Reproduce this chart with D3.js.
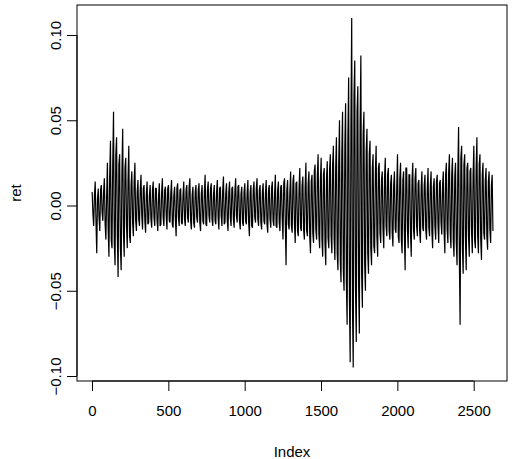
<!DOCTYPE html>
<html>
<head>
<meta charset="utf-8">
<script src="https://cdn.jsdelivr.net/npm/d3@7"></script>
<style>
  body { margin: 0; background: #fff; }
  text { font-family: Arial, "Liberation Sans", sans-serif; font-size: 15px; fill: #000; }
</style>
</head>
<body>
<svg id="chart" width="513" height="459"></svg>
<script>
// returns in thousandths, read at index 1, 11, 21, ...
const retMilli = [
  8,-12,14,-28,10,-15,12,-9,16,-20,
  25,-30,38,-25,55,-35,40,-42,30,-38,
  45,-30,28,-25,35,-22,20,-18,25,-15,
  15,-12,18,-14,12,-16,14,-10,12,-13,
  14,-12,10,-15,13,-11,16,-12,11,-14,
  12,-10,15,-13,11,-18,13,-12,10,-11,
  14,-12,12,-10,16,-14,11,-13,12,-10,
  13,-15,12,-11,18,-12,14,-10,13,-12,
  12,-11,15,-14,11,-12,17,-10,13,-15,
  14,-12,11,-13,16,-10,12,-14,11,-12,
  13,-11,15,-18,12,-13,14,-10,16,-12,
  12,-14,13,-11,15,-16,12,-13,14,-12,
  18,-13,14,-15,12,-20,16,-35,15,-14,
  20,-16,18,-22,14,-18,22,-15,17,-20,
  25,-18,20,-28,18,-22,24,-20,30,-25,
  28,-30,22,-35,26,-25,30,-28,35,-32,
  40,-38,50,-45,55,-50,60,-70,75,-92,
  110,-95,85,-80,70,-75,88,-60,55,-50,
  45,-40,38,-35,30,-28,35,-30,25,-22,
  20,-25,28,-18,22,-20,18,-24,20,-16,
  30,-22,25,-28,20,-38,22,-25,18,-30,
  25,-20,22,-18,15,-22,20,-15,18,-20,
  22,-18,20,-25,16,-20,18,-22,15,-17,
  20,-28,25,-22,30,-25,28,-30,25,-35,
  46,-70,35,-40,30,-38,25,-30,22,-28,
  35,-25,40,-28,30,-32,25,-20,22,-26,
  20,-22,18
];
// returns in thousandths, read at index 6, 16, 26, ...
const retMilliMid = [
  -5,6,-9,4,-7,9,-4,8,-11,6,
  -14,18,-20,26,-22,30,-18,24,-25,20,
  -16,22,-12,15,-18,12,-10,14,-9,8,
  -8,9,-6,10,-9,7,-11,6,-8,9,
  -7,10,-9,6,-12,8,-7,9,-6,10,
  -9,7,-11,6,-8,10,-7,9,-10,6,
  -8,9,-7,11,-9,6,-10,8,-7,9,
  -10,7,-9,8,-11,9,-6,10,-8,7,
  -9,8,-7,10,-6,9,-11,7,-9,8,
  -7,10,-8,9,-6,11,-9,7,-10,8,
  -9,7,-10,8,-12,9,-7,10,-8,9,
  -10,8,-9,7,-11,9,-8,10,-9,7,
  -12,9,-10,11,-8,13,-10,9,-11,8,
  -12,14,-11,13,-15,10,-13,12,-14,11,
  -15,13,-18,14,-16,20,-14,18,-17,15,
  -20,18,-22,16,-19,21,-18,24,-20,22,
  -28,25,-32,30,-38,35,-45,40,-55,50,
  -60,65,-50,55,-45,48,-40,42,-35,32,
  -28,30,-25,22,-24,20,-18,22,-16,15,
  -14,16,-12,18,-15,13,-16,12,-14,11,
  -18,16,-20,15,-17,22,-14,18,-16,15,
  -14,16,-12,13,-15,11,-13,12,-14,10,
  -13,12,-15,11,-12,14,-11,13,-10,12,
  -15,18,-14,20,-16,18,-20,17,-22,20,
  -30,28,-25,24,-20,22,-18,20,-16,18,
  -20,22,-18,24,-20,18,-16,15,-18,14,
  -14,12,-15
];
const indexStep = 10;
const xTicks = [0, 500, 1000, 1500, 2000, 2500];
const yTicks = [-0.10, -0.05, 0.00, 0.05, 0.10];

const data = [];
retMilli.forEach((v, i) => {
  data.push({ idx: 1 + i * indexStep, ret: v / 1000 });
  data.push({ idx: 6 + i * indexStep, ret: retMilliMid[i] / 1000 });
});

const svg = d3.select("#chart");
const box = { left: 77, right: 507, top: 5, bottom: 381 };

const x = d3.scaleLinear().domain([0, 2500]).range([92, 473.7]);
const y = d3.scaleLinear().domain([-0.1, 0.1]).range([376, 35]);

svg.append("path")
    .datum(data)
    .attr("fill", "none")
    .attr("stroke", "#000")
    .attr("stroke-width", 1.2)
    .attr("d", d3.line().x(d => x(d.idx)).y(d => y(d.ret)));

svg.append("rect")
    .attr("x", box.left).attr("y", box.top)
    .attr("width", box.right - box.left).attr("height", box.bottom - box.top)
    .attr("fill", "none").attr("stroke", "#000");

const xAxis = svg.append("g").attr("transform", `translate(0,${box.bottom})`)
    .call(d3.axisBottom(x).tickValues(xTicks).tickSize(10).tickPadding(14).tickFormat(d3.format("d")));
xAxis.select(".domain").attr("d", `M${x(0)},0H${x(2500)}`);

const yAxis = svg.append("g").attr("transform", `translate(${box.left},0)`)
    .call(d3.axisLeft(y).tickValues(yTicks).tickSize(10).tickFormat(d3.format(".2f")));
yAxis.select(".domain").attr("d", `M0,${y(-0.1)}V${y(0.1)}`);
yAxis.selectAll(".tick text")
    .attr("x", 0).attr("dy", 0)
    .attr("transform", "translate(-22,0) rotate(-90)")
    .attr("text-anchor", "middle")
    .attr("dominant-baseline", "central");

svg.selectAll(".tick text").style("font-size", "15px").style("font-family", "Arial, 'Liberation Sans', sans-serif");

svg.append("text").attr("x", 292).attr("y", 457).attr("text-anchor", "middle").text("Index");
svg.append("text").attr("transform", "translate(15,193) rotate(-90)")
    .attr("text-anchor", "middle").attr("dominant-baseline", "central").text("ret");
</script>
</body>
</html>
